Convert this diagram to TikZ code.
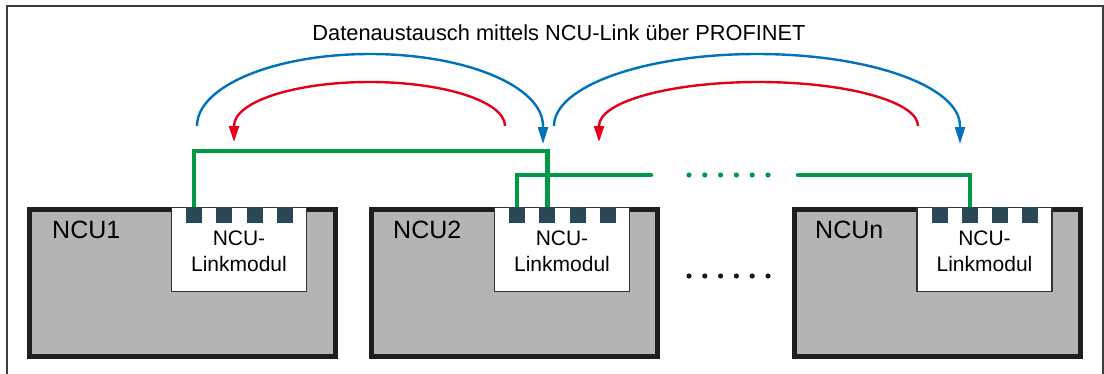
\documentclass[tikz,border=0pt]{standalone}
\usepackage{fontspec}
\setmainfont{Liberation Sans}
\usetikzlibrary{arrows.meta,calc}
\definecolor{sblue}{RGB}{0,114,188}
\definecolor{sred}{RGB}{226,0,26}
\definecolor{sgreen}{RGB}{0,154,68}
\definecolor{sgray}{RGB}{180,180,180}
\definecolor{sport}{RGB}{43,72,86}
\definecolor{sborder}{RGB}{30,30,30}
\definecolor{sframe}{RGB}{60,60,60}
\begin{document}
\begin{tikzpicture}[x=1pt,y=-1pt,
 ncubox/.style={draw=sborder,fill=sgray,line width=5pt,anchor=north west,inner sep=0pt,outer sep=0pt,minimum height=147pt},
 modbox/.style={draw=black!80,fill=white,line width=1.2pt,anchor=north west,minimum width=135pt,minimum height=83.5pt,inner sep=0pt,outer sep=0pt},
 portbox/.style={fill=sport,anchor=north west,minimum width=16pt,minimum height=16pt,inner sep=0pt,outer sep=0pt},
 ncutext/.style={anchor=base west,font=\fontsize{25}{30}\selectfont,inner sep=0pt},
 modtext/.style={anchor=base,font=\fontsize{21}{26}\selectfont,inner sep=0pt},
 titletext/.style={anchor=base,font=\fontsize{21.8}{26}\selectfont,inner sep=0pt},
 bus/.style={draw=sgreen,line width=4.5pt},
 busdot/.style={fill=sgreen},
 gapdot/.style={fill=black!90},
 bluearc/.style={draw=sblue,line width=2.4pt,-{Triangle[length=17pt,width=10pt]}},
 redarc/.style={draw=sred,line width=2.4pt,-{Triangle[length=16pt,width=10pt]}},
 frameline/.style={draw=sframe,line width=2pt}
]
\useasboundingbox (0,0) rectangle (1104,373);
\draw[frameline] (7,378) -- (7,6) -- (1103.3,6) -- (1103.3,378);

% title
\node[titletext] (title) at (559,40) {Datenaustausch mittels NCU-Link über PROFINET};

% NCU boxes: name / box x / box width / module x / label x / label
\foreach \n/\bx/\bw/\mx/\lx/\lab in {a/29.5/306/171/52/NCU1, b/371/286.5/494/393/NCU2, c/794.5/285.5/916.5/815/NCUn}{
  \node[ncubox,minimum width=\bw pt] (box\n) at (\bx,209.5) {};
  \node[ncutext] (lab\n) at (\lx,238) {\lab};
  \node[modbox] (mod\n) at (\mx+0.5,207.6) {};
  \node[modtext] (modt\n) at (\mx+68,245) {NCU-};
  \node[modtext] (modl\n) at (\mx+68,271) {Linkmodul};
}

% bus coordinates
\coordinate (busA) at (0,151);
\coordinate (busB) at (0,175);
\coordinate (busBend) at (651,175);
\coordinate (busCstart) at (798,175);

% port positions: p = top-left corner, tp = top centre
\foreach \n/\mx in {a/171, b/494, c/916.5}{
  \foreach \i in {1,...,4}{
    \path (\mx+15+30.3*\i-30.3,207) coordinate (p\n\i);
    \path (\mx+23+30.3*\i-30.3,207) coordinate (tp\n\i);
  }
}

% green bus lines
\draw[bus] (tpa1) -- (tpa1 |- busA) -- (tpb2 |- busA) -- (tpb2);
\draw[bus,line cap=round] (tpb1) -- (tpb1 |- busB) -- (busBend);
\draw[bus,line cap=round] (busCstart) -- (tpc2 |- busB) -- (tpc2);
\foreach \i in {0,...,5}{
  \fill[busdot] (689+15.8*\i,175) circle (2.6);
  \fill[gapdot] (689+15.8*\i,276) circle (2.6);
}

% ports
\foreach \n in {a,b,c}{
  \foreach \i in {1,...,4}{
    \node[portbox] (port\n\i) at (p\n\i) {};
  }
}

% arcs
\coordinate (b1s) at (197,126);
\coordinate (b1e) at (543,144);
\coordinate (r1s) at (505,126);
\coordinate (r1e) at (234,142);
\coordinate (b2s) at (554,126);
\coordinate (b2e) at (960,144);
\coordinate (r2s) at (918,126);
\coordinate (r2e) at (599,142);
\draw[bluearc] (b1s) .. controls (197,86.2) and (274.5,54) .. (370,54) .. controls (465.5,54) and (543,86.2) .. (543,126) -- (b1e);
\draw[redarc] (r1s) .. controls (505,101.7) and (444.3,82) .. (369.5,82) .. controls (294.7,82) and (234,101.7) .. (234,126) -- (r1e);
\draw[bluearc] (b2s) .. controls (554,86.2) and (644.9,54) .. (757,54) .. controls (869.1,54) and (960,86.2) .. (960,126) -- (b2e);
\draw[redarc] (r2s) .. controls (918,101.7) and (846.6,82) .. (758.5,82) .. controls (670.4,82) and (599,101.7) .. (599,126) -- (r2e);
\end{tikzpicture}
\end{document}
